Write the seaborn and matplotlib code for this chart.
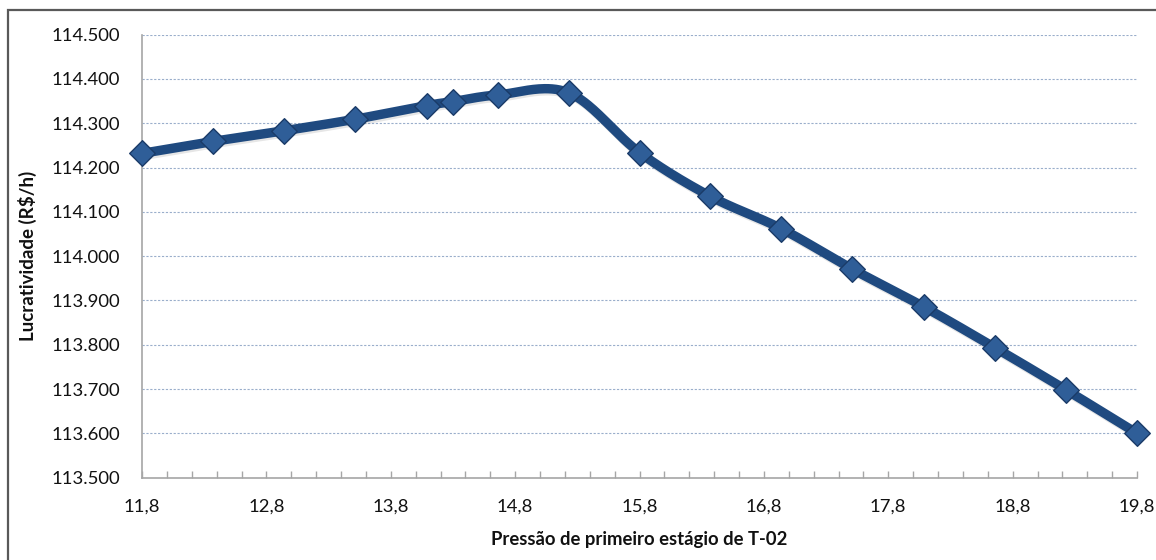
import numpy as np
import pandas as pd
import matplotlib
matplotlib.use("Agg")
import matplotlib.pyplot as plt
import matplotlib.patheffects as pe
from matplotlib.patches import Rectangle
from matplotlib.ticker import FixedLocator, MultipleLocator, FuncFormatter
import seaborn as sns

# First-stage pressure of T-02 and the resulting profitability (R$/h)
pressao = [11.8, 12.37, 12.94, 13.51, 14.09, 14.3, 14.66, 15.23,
           15.8, 16.37, 16.94, 17.51, 18.09, 18.66, 19.23, 19.8]
lucratividade = [114232, 114259, 114283, 114309, 114340, 114349, 114364, 114369,
                 114234, 114135, 114062, 113971, 113885, 113793, 113698, 113600]

x_ticks = [11.8, 12.8, 13.8, 14.8, 15.8, 16.8, 17.8, 18.8, 19.8]
y_ticks = [113500, 113600, 113700, 113800, 113900, 114000, 114100, 114200, 114300, 114400, 114500]

x_label = "Pressão de primeiro estágio de T-02"
y_label = "Lucratividade (R$/h)"


def smooth_curve(xs, ys, n=40):
    """Bezier smoothing through every point (Catmull-Rom style tangents)."""
    p = np.column_stack([xs, ys]).astype(float)
    ext = np.vstack([p[0], p, p[-1]])
    out = []
    for i in range(len(p) - 1):
        p0, p1, p2, p3 = ext[i], ext[i + 1], ext[i + 2], ext[i + 3]
        c1 = p1 + (p2 - p0) / 6.0
        c2 = p2 - (p3 - p1) / 6.0
        t = np.linspace(0, 1, n, endpoint=(i == len(p) - 2))[:, None]
        seg = ((1 - t) ** 3) * p1 + 3 * ((1 - t) ** 2) * t * c1 + 3 * (1 - t) * t ** 2 * c2 + t ** 3 * p2
        out.append(seg)
    out = np.vstack(out)
    return out[:, 0], out[:, 1]


sx, sy = smooth_curve(pressao, lucratividade)
curve = pd.DataFrame({"x": sx, "y": sy, "ordem": np.arange(len(sx))})
pontos = pd.DataFrame({"x": pressao, "y": lucratividade})

sns.set_theme(style="white")
plt.rcParams["font.family"] = ["Lato", "DejaVu Sans"]

fig = plt.figure(figsize=(11.56, 5.6), dpi=100)
ax = fig.add_axes([142 / 1156, 1 - 477.6 / 560, (1137 - 142) / 1156, (477.6 - 34.7) / 560])

line_color = "#1F4A80"
sns.lineplot(data=curve, x="x", y="y", sort=False, ax=ax, color=line_color,
             linewidth=6.8, solid_capstyle="round", zorder=3,
             path_effects=[pe.SimpleLineShadow(offset=(1.0, -1.5), alpha=0.12, shadow_color="#333333"),
                           pe.Normal()])
sc = sns.scatterplot(data=pontos, x="x", y="y", ax=ax, marker="D", s=170,
                     color="#2F5E98", edgecolor="#1A3B68", linewidth=1.0, zorder=4)
for coll in ax.collections:
    coll.set_clip_on(False)
for ln in ax.lines:
    ln.set_clip_on(False)

ax.set_xlim(11.8, 19.8)
ax.set_ylim(113500, 114500)
ax.xaxis.set_major_locator(FixedLocator(x_ticks))
ax.xaxis.set_minor_locator(MultipleLocator(0.2))
ax.yaxis.set_major_locator(FixedLocator(y_ticks))
ax.xaxis.set_major_formatter(FuncFormatter(lambda v, _: f"{v:.1f}".replace(".", ",")))
ax.yaxis.set_major_formatter(FuncFormatter(lambda v, _: f"{v:,.0f}".replace(",", ".")))

ax.grid(axis="y", linestyle=(0, (2, 1.5)), color="#9AAECB", linewidth=0.8)
ax.grid(axis="x", visible=False)
ax.set_axisbelow(True)

for side in ("top", "right"):
    ax.spines[side].set_visible(False)
for side in ("left", "bottom"):
    ax.spines[side].set_color("#A6A6A6")
    ax.spines[side].set_linewidth(1.2)

ax.tick_params(axis="x", which="both", direction="in", length=5, width=1,
               color="#A6A6A6", labelsize=13.3, pad=15, labelcolor="#111111", bottom=True)
ax.tick_params(axis="y", which="both", length=0, labelsize=13.3, pad=16, labelcolor="#111111")

ax.set_xlabel(x_label, fontsize=13.3, fontweight="bold", labelpad=12, color="#111111")
ax.set_ylabel(y_label, fontsize=13.5, fontweight="bold", labelpad=10, color="#111111")

fig.patches.append(Rectangle((8 / 1156, -0.1), 1.2, 1.1 - 10 / 560, transform=fig.transFigure,
                             fill=False, edgecolor="#595959", linewidth=1.6, zorder=10))

fig.savefig("out.png", dpi=100, facecolor="white")
